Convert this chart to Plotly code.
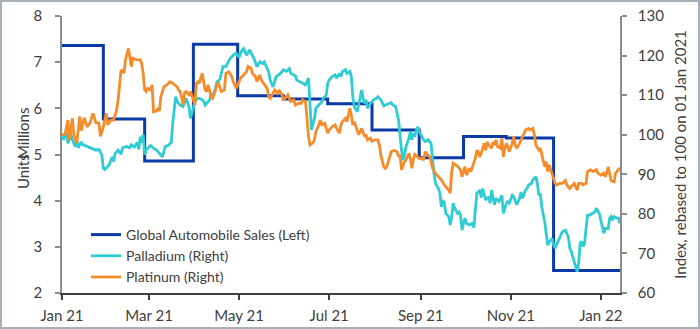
import pandas as pd
import plotly.graph_objects as go

# ---------------- data ----------------
base_date = "2021-01-01"

auto_dates = ["2021-01-01", "2021-01-29", "2021-02-26", "2021-03-31", "2021-04-30",
              "2021-05-31", "2021-06-30", "2021-07-30", "2021-08-31", "2021-09-30",
              "2021-10-29", "2021-11-30", "2022-01-14"]
auto_sales = [7.36, 5.77, 4.86, 7.39, 6.27, 6.20, 6.10, 5.53, 4.93, 5.39, 5.36, 2.49, 2.49]

# days since 01 Jan 2021
palladium_days = [0, 1, 3, 4, 6, 7, 9, 10, 11, 13, 14, 17, 19, 21, 23, 25, 27, 28, 29, 31, 32, 34, 35, 36, 38,
                  40, 41, 44, 46, 47, 49, 51, 52, 53, 54, 55, 56, 57, 60, 62, 64, 66, 68, 70, 72, 74, 75, 77,
                  78, 80, 82, 83, 84, 86, 87, 89, 90, 92, 93, 95, 96, 97, 98, 100, 101, 102, 104, 105, 107,
                  109, 111, 114, 116, 118, 120, 122, 123, 125, 127, 130, 132, 134, 136, 137, 140, 141, 143,
                  145, 148, 150, 152, 154, 155, 158, 159, 161, 163, 165, 167, 168, 169, 171, 172, 174, 176,
                  177, 179, 180, 181, 183, 185, 186, 188, 189, 190, 192, 193, 195, 196, 197, 198, 200, 201,
                  203, 204, 205, 206, 207, 209, 211, 213, 214, 216, 218, 219, 221, 223, 224, 226, 228, 229,
                  230, 231, 232, 233, 235, 236, 237, 238, 239, 240, 241, 242, 244, 245, 246, 248, 250, 251,
                  252, 253, 255, 256, 257, 258, 259, 260, 262, 263, 264, 265, 266, 268, 269, 270, 271, 272,
                  273, 274, 276, 278, 279, 280, 281, 283, 284, 285, 286, 287, 289, 290, 291, 292, 293, 294,
                  296, 298, 299, 301, 302, 303, 305, 306, 308, 310, 311, 312, 314, 315, 316, 318, 319, 321,
                  322, 323, 324, 325, 327, 328, 329, 330, 332, 333, 334, 336, 338, 339, 341, 343, 344, 345,
                  346, 347, 349, 350, 351, 352, 353, 354, 355, 356, 358, 359, 361, 362, 364, 365, 366, 367,
                  368, 370, 371, 372, 373, 374, 376, 377, 378]
palladium = [100, 98.7, 100.8, 97.8, 100, 98.7, 97, 98.7, 96.7, 98.2, 97.5, 97, 96.7, 96.4, 96.1, 96.3, 94.9,
             91.5, 91.2, 92, 92.4, 94.4, 93.2, 95.3, 96.1, 95.1, 96.7, 97, 96.7, 97.5, 96.9, 98, 96.3, 99.5,
             98, 100, 94.9, 96.1, 97.3, 96.6, 96.1, 95.3, 94.4, 97, 97.3, 98, 102.9, 109.6, 108.4, 107.5,
             107.1, 108, 109.2, 107.2, 104.1, 106.8, 108.4, 109.2, 109.2, 108.8, 108.4, 107.5, 107.9, 108.8,
             110.5, 109.6, 111.7, 113.4, 114, 117.2, 117.2, 119.3, 120.1, 120.6, 119.6, 121.4, 121.8, 120.1,
             121.4, 119.3, 117.2, 118.4, 118, 118.4, 115.9, 113.8, 112.1, 114.6, 115.5, 116.4, 116, 116.7,
             115.5, 114.9, 113.8, 113.4, 113.2, 112.6, 114.3, 107.9, 101.2, 104.1, 106.7, 107.5, 108.3, 109.2,
             110, 113, 113.8, 114.7, 115.1, 114.3, 115.5, 114.7, 116, 116.4, 115.5, 116, 114.7, 109.6, 107.1,
             105.8, 107.9, 111.3, 109.2, 107.9, 108.8, 106.7, 107.9, 108.8, 109.2, 109.6, 108.8, 107.3, 107.5,
             107.9, 108.1, 107.5, 107.1, 103.7, 99.5, 96.1, 93.6, 94.9, 97, 99.1, 100.8, 98.7, 100.4, 99.5,
             101.2, 102, 100.8, 99.1, 98.7, 98.3, 98.7, 97.8, 93.6, 90.2, 87.7, 86.4, 85.2, 81.8, 83.5, 82.7,
             80.1, 79.3, 77.2, 79.3, 82.7, 81.4, 80.1, 80.5, 79.7, 75.9, 77.6, 78.9, 77.6, 77.2, 77.6, 76.5,
             81, 85.2, 86, 84.1, 86.4, 85.2, 83.5, 84.3, 82.7, 86, 84.3, 82.3, 83.9, 83.1, 84.7, 80.1, 82.7,
             83.1, 82.7, 84.7, 84.3, 82.3, 83.9, 85.5, 83.9, 86, 86.4, 87.3, 87.7, 88.6, 89.4, 87.7, 84.7,
             85.2, 81.8, 78, 75.1, 72.1, 72.9, 73.8, 72.1, 71.3, 73, 74.6, 75.5, 75.9, 74.2, 71.3, 70.5, 69.2,
             67.9, 65.4, 67.5, 72.6, 73, 71.7, 72.6, 75.9, 79.7, 79.7, 80.1, 80.5, 81.4, 80.1, 78.4, 76.7,
             75.1, 76.3, 76.3, 78.9, 79.3, 78.4, 79.3, 78.9, 78.9, 77.6]

platinum_days = [0, 2, 4, 5, 7, 8, 10, 12, 13, 15, 17, 19, 21, 23, 25, 26, 28, 30, 31, 33, 35, 37, 38, 39, 40,
                 42, 43, 45, 46, 47, 48, 51, 53, 54, 55, 56, 57, 58, 60, 61, 62, 64, 65, 66, 67, 69, 71, 73,
                 75, 78, 79, 80, 81, 82, 83, 84, 86, 87, 89, 90, 91, 92, 93, 95, 96, 97, 98, 99, 101, 102,
                 104, 105, 106, 108, 110, 111, 113, 115, 116, 118, 119, 121, 123, 125, 126, 128, 129, 131,
                 132, 134, 135, 137, 139, 140, 141, 143, 144, 146, 147, 149, 150, 152, 153, 155, 157, 158,
                 160, 162, 163, 165, 167, 168, 170, 171, 172, 174, 175, 176, 178, 180, 181, 183, 185, 186,
                 188, 189, 190, 192, 193, 194, 195, 196, 197, 198, 200, 201, 203, 205, 206, 207, 209, 210,
                 212, 214, 215, 216, 218, 219, 220, 222, 223, 225, 227, 228, 229, 230, 232, 233, 235, 236,
                 237, 238, 239, 241, 242, 244, 245, 246, 247, 249, 250, 251, 253, 254, 255, 257, 259, 260,
                 262, 263, 264, 265, 267, 268, 270, 271, 272, 273, 274, 276, 277, 279, 280, 281, 282, 283,
                 284, 286, 287, 288, 289, 291, 292, 293, 294, 295, 297, 298, 299, 300, 301, 302, 303, 305,
                 306, 307, 308, 310, 311, 313, 314, 316, 317, 319, 320, 321, 323, 324, 325, 327, 328, 329,
                 330, 332, 333, 334, 335, 337, 339, 341, 342, 344, 345, 346, 347, 349, 350, 352, 353, 355,
                 356, 358, 360, 362, 363, 365, 367, 368, 369, 370, 371, 372, 374, 375, 377, 378]
platinum = [100, 100, 103.7, 98.7, 104.1, 100, 97.8, 104.6, 101, 104.3, 102, 103, 105.4, 103, 103, 99.6, 102,
            105.4, 102.5, 103.7, 103.7, 106.2, 108.8, 113, 116.4, 115.6, 118.9, 121.8, 118.9, 117.2, 119.3,
            118.9, 118.9, 118.0, 115.5, 111.3, 110.9, 111.7, 111.3, 112.6, 105.8, 106, 106.7, 106, 109.6,
            112.1, 112.6, 113.4, 113, 112.1, 111.3, 110.9, 109.6, 107.5, 110.5, 110.9, 110.1, 110.9, 108.8,
            107.5, 113, 113.4, 113, 115.5, 113.4, 111.3, 110.9, 112.6, 109.6, 109.2, 111.3, 112.6, 113,
            110.9, 111.3, 115.5, 115.9, 114.7, 113.4, 111.7, 112.6, 114.3, 115.1, 115.9, 117.2, 116.8, 115.5,
            114.7, 113.4, 115.1, 113.8, 112.6, 111.7, 109.6, 109.2, 110.5, 111.3, 110.5, 111.3, 110.1, 108.8,
            109.6, 110.1, 108.4, 108.8, 107.5, 107.9, 107.9, 108.8, 108.3, 99.5, 97.4, 98, 98.7, 100.8,
            102.5, 103.7, 102.5, 102.9, 100.4, 101.2, 102, 102.5, 101.6, 100.4, 102.5, 103.3, 104.1, 103.3,
            105, 106.7, 105, 102.5, 103.3, 101.2, 100, 101.6, 99.5, 100, 98.7, 99.1, 98.3, 98.7, 98.7, 97.4,
            94.9, 91.9, 91.5, 91.9, 94.4, 95.7, 96, 95.7, 94.4, 94.9, 91.1, 93.2, 93.6, 95.3, 94, 91.5, 93.6,
            95, 94.4, 94, 94, 93.6, 95.7, 95.3, 94.4, 93.2, 91.5, 90.2, 89.8, 89.4, 88.6, 87.3, 86.9, 86,
            85.2, 90.7, 92.8, 92.4, 92, 91.1, 89.4, 90.7, 91.9, 89.8, 91.5, 90.7, 92.8, 94, 96.1, 95.7, 94.4,
            95.3, 97.8, 96.1, 98.2, 97.4, 96.6, 98.2, 97.4, 98.7, 97, 96.6, 99.1, 94.4, 96.6, 97.8, 97, 95.7,
            97.8, 99.5, 97.4, 96.6, 97.8, 98.7, 100.4, 101.2, 101.6, 101.2, 101.6, 100, 97.4, 96.1, 96.6,
            94.9, 91.9, 93.2, 90.7, 92.4, 90.3, 89, 87.7, 87.3, 87.7, 87.7, 88.4, 87.3, 86.4, 86.9, 87.3,
            87.7, 86, 87.7, 87.7, 87.3, 87.7, 90.7, 91.1, 90.7, 91.2, 90.3, 89.8, 90.3, 89.4, 90.3, 91.9,
            90.3, 88.4, 88.1, 90.3, 91.2, 91.6]

left_ticks = [2, 3, 4, 5, 6, 7, 8]
right_ticks = [60, 70, 80, 90, 100, 110, 120, 130]

# ---------------- figure ----------------
start = pd.Timestamp(base_date)
pd_dates = start + pd.to_timedelta(palladium_days, unit="D")
pt_dates = start + pd.to_timedelta(platinum_days, unit="D")

FONT = "Lato, 'Source Sans Pro', Arial, sans-serif"
TXT = "#404040"
BLUE = "#0B3AA8"
CYAN = "#2ECCD3"
ORANGE = "#F68B2A"
FS = 15

W, H = 700, 329
ML, MR, MT, MB = 62, 80, 16, 36
PW, PH = W - ML - MR, H - MT - MB

fig = go.Figure()
fig.add_trace(go.Scatter(x=auto_dates, y=auto_sales, mode="lines", line_shape="hv",
                         name="Global Automobile Sales (Left)",
                         line=dict(color=BLUE, width=3), yaxis="y"))
fig.add_trace(go.Scatter(x=pd_dates, y=palladium, mode="lines", name="Palladium (Right)",
                         line=dict(color=CYAN, width=2.8), yaxis="y2"))
fig.add_trace(go.Scatter(x=pt_dates, y=platinum, mode="lines", name="Platinum (Right)",
                         line=dict(color=ORANGE, width=2.8), yaxis="y2"))

fig.update_layout(
    width=W, height=H,
    margin=dict(l=ML, r=MR, t=MT, b=MB, pad=0, autoexpand=False),
    paper_bgcolor="white", plot_bgcolor="white",
    font=dict(family=FONT, size=FS, color=TXT),
    showlegend=True,
    legend=dict(x=(86 - ML) / PW, y=(H - MB - 219) / PH, xanchor="left", yanchor="top",
                bgcolor="rgba(0,0,0,0)", font=dict(size=14, color=TXT),
                tracegroupgap=0, itemwidth=30),
    xaxis=dict(type="date", range=["2021-01-01", "2022-01-14"], automargin=False,
               tick0="2021-01-01", dtick="M2", tickformat="%b %y",
               showgrid=False, zeroline=False,
               showline=True, linecolor="#404040", linewidth=1.5,
               ticks="outside", ticklen=5, tickcolor="#404040", tickwidth=1.5,
               ticklabelstandoff=3, tickfont=dict(size=FS, color=TXT)),
    yaxis=dict(range=[2, 8], tickvals=left_ticks, showgrid=False, zeroline=False, automargin=False,
               showline=True, linecolor="#8C8C8C", linewidth=1.5,
               ticks="outside", ticklen=5, tickcolor="#8C8C8C", tickwidth=1.5,
               ticklabelstandoff=10, tickfont=dict(size=FS, color=TXT)),
    yaxis2=dict(range=[60, 130], tickvals=right_ticks, overlaying="y", side="right",
                showgrid=False, zeroline=False, automargin=False,
                showline=True, linecolor="#8C8C8C", linewidth=1.5,
                ticks="outside", ticklen=5, tickcolor="#8C8C8C", tickwidth=1.5,
                ticklabelstandoff=8, tickfont=dict(size=FS, color=TXT),
                title=dict(text="Index, rebased to 100 on 01 Jan 2021",
                           font=dict(size=FS, color=TXT), standoff=12)),
)

# left axis title (two overlapping labels as in the original)
fig.add_annotation(text="Units", xref="paper", yref="paper",
                   x=-(ML - 23) / PW, y=(H - MB - 172) / PH, textangle=-90,
                   showarrow=False, xanchor="center", yanchor="middle",
                   font=dict(size=FS, color=TXT))
fig.add_annotation(text="Millions", xref="paper", yref="paper",
                   x=-(ML - 23) / PW, y=(H - MB - 134) / PH, textangle=-90,
                   showarrow=False, xanchor="center", yanchor="middle",
                   font=dict(size=FS, color=TXT))

# outer frame
fig.add_shape(type="rect", xref="paper", yref="paper",
              x0=-(ML - 1) / PW, x1=(PW + MR - 1) / PW,
              y0=-(MB - 1) / PH, y1=(PH + MT - 1) / PH,
              line=dict(color="#A9B1B8", width=2), fillcolor="rgba(0,0,0,0)", layer="below")

fig.write_html("out.html")
